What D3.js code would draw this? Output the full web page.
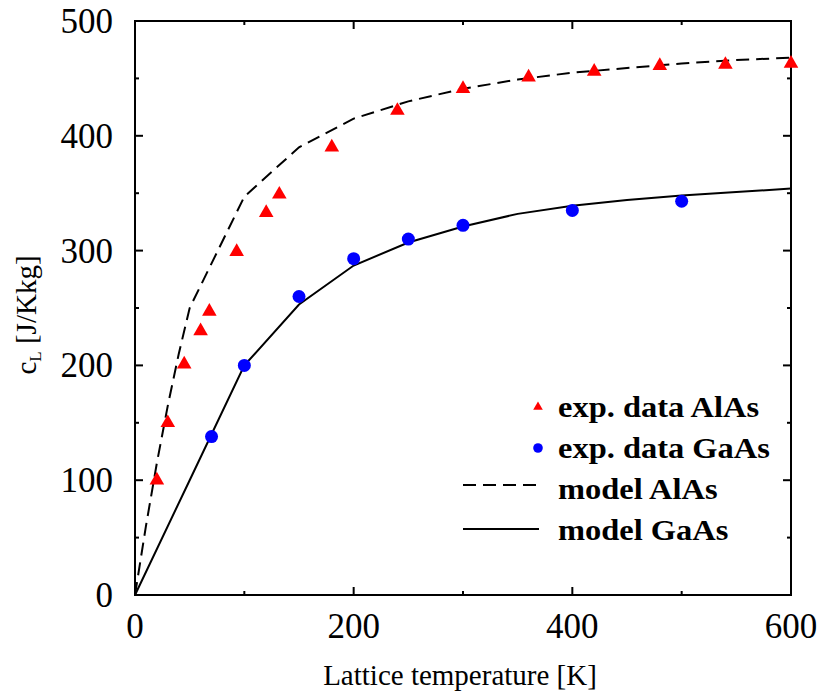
<!DOCTYPE html>
<html>
<head>
<meta charset="utf-8">
<script src="https://cdn.jsdelivr.net/npm/d3@7"></script>
<style>
  body { margin: 0; background: #fff; }
  text { font-family: "Liberation Serif", "Times New Roman", serif; }
</style>
</head>
<body>
<svg></svg>
<script>
// experimental points
const alasTemp = [20, 30, 45, 60, 68, 93, 120, 132, 180, 240, 300, 360, 420, 480, 540, 600];
const alasCp = [100, 150, 201, 230, 247, 299, 333, 349, 390, 422, 441, 451, 456, 461, 462, 463];
const gaasTemp = [70, 100, 150, 200, 250, 300, 400, 500];
const gaasCp = [138, 200, 260, 293, 310, 322, 335, 343];

// model curves
const modelAlasTemp = [0, 10, 20, 30, 40, 50, 100, 150, 200, 250, 300, 350, 400, 450, 500, 550, 600];
const modelAlasCp = [0, 60, 115, 165, 210, 250, 347, 390, 415, 430, 441, 449, 455, 459, 463, 466, 468];
const modelGaasTemp = [0, 50, 100, 150, 200, 250, 300, 350, 400, 450, 500, 550, 600];
const modelGaasCp = [0, 100, 200, 253, 287, 307, 321, 332, 339, 344, 348, 351, 354];

const xTickLabels = [0, 200, 400, 600];
const yTickLabels = [0, 100, 200, 300, 400, 500];
const legendLabels = ["exp. data AlAs", "exp. data GaAs", "model AlAs", "model GaAs"];

let width = 822,
    height = 696;

const svg = d3.select("svg")
    .attr("width", width)
    .attr("height", height);

const x = d3.scaleLinear().domain([0, 600]).range([135, 791]);
const y = d3.scaleLinear().domain([0, 500]).range([595, 21]);

const zip = (xs, ys) => xs.map((v, i) => ({ x: v, y: ys[i] }));

// ticks (inward, all four sides)
const ticks = svg.append("g").attr("class", "ticks").attr("stroke", "black").attr("stroke-width", 2);
const xt = d3.range(0, 601, 100);
const yt = d3.range(0, 501, 50);
ticks.selectAll(".xb").data(xt).enter().append("line")
    .attr("x1", d => x(d)).attr("x2", d => x(d))
    .attr("y1", y(0)).attr("y2", d => y(0) - (d % 200 == 0 ? 8 : 4));
ticks.selectAll(".xtp").data(xt).enter().append("line")
    .attr("x1", d => x(d)).attr("x2", d => x(d))
    .attr("y1", y(500)).attr("y2", d => y(500) + (d % 200 == 0 ? 8 : 4));
ticks.selectAll(".yl").data(yt).enter().append("line")
    .attr("y1", d => y(d)).attr("y2", d => y(d))
    .attr("x1", x(0)).attr("x2", d => x(0) + (d % 100 == 0 ? 8 : 4));
ticks.selectAll(".yr").data(yt).enter().append("line")
    .attr("y1", d => y(d)).attr("y2", d => y(d))
    .attr("x1", x(600)).attr("x2", d => x(600) - (d % 100 == 0 ? 8 : 4));

// frame
svg.append("rect")
    .attr("x", x(0)).attr("y", y(500))
    .attr("width", x(600) - x(0)).attr("height", y(0) - y(500))
    .attr("fill", "none").attr("stroke", "black").attr("stroke-width", 2);

// tick labels
svg.append("g").selectAll("text")
    .data(xTickLabels)
    .enter()
    .append("text")
    .attr("x", d => x(d))
    .attr("y", 638)
    .attr("text-anchor", "middle")
    .attr("font-size", 35)
    .text(d => d);

svg.append("g").selectAll("text")
    .data(yTickLabels)
    .enter()
    .append("text")
    .attr("x", 113)
    .attr("y", d => y(d) + 12)
    .attr("text-anchor", "end")
    .attr("font-size", 35)
    .text(d => d);

// axis titles
svg.append("text")
    .attr("x", 460)
    .attr("y", 685)
    .attr("text-anchor", "middle")
    .attr("font-size", 29)
    .text("Lattice temperature [K]");

const yTitle = svg.append("text")
    .attr("transform", "translate(36,315) rotate(-90)")
    .attr("text-anchor", "middle")
    .attr("font-size", 29);
yTitle.append("tspan").text("c");
yTitle.append("tspan").attr("font-size", 17).attr("dy", 5).text("L");
yTitle.append("tspan").attr("dy", -5).text(" [J/Kkg]");

// model curves
const line = d3.line().x(d => x(d.x)).y(d => y(d.y));

svg.append("path")
    .datum(zip(modelAlasTemp, modelAlasCp))
    .attr("d", line)
    .attr("fill", "none")
    .attr("stroke", "black")
    .attr("stroke-width", 2)
    .attr("stroke-dasharray", "13,7");

svg.append("path")
    .datum(zip(modelGaasTemp, modelGaasCp))
    .attr("d", line)
    .attr("fill", "none")
    .attr("stroke", "black")
    .attr("stroke-width", 2);

// experimental points
svg.append("g").attr("class", "alas")
    .selectAll("path")
    .data(zip(alasTemp, alasCp))
    .enter()
    .append("path")
    .attr("d", d3.symbol(d3.symbolTriangle, 92))
    .attr("transform", d => "translate(" + x(d.x) + "," + y(d.y) + ")")
    .attr("fill", "red");

svg.append("g").attr("class", "gaas")
    .selectAll("circle")
    .data(zip(gaasTemp, gaasCp))
    .enter()
    .append("circle")
    .attr("cx", d => x(d.x))
    .attr("cy", d => y(d.y))
    .attr("r", 6.5)
    .attr("fill", "blue");

// legend
const leg = svg.append("g").attr("class", "legend");
const rowY = i => 407 + i * 41;

leg.append("g")
    .attr("transform", "translate(558,0) scale(1.12,1)")
    .selectAll("text")
    .data(legendLabels)
    .enter()
    .append("text")
    .attr("x", 0)
    .attr("y", (d, i) => rowY(i) + 10)
    .attr("font-size", 29)
    .attr("font-weight", "bold")
    .text(d => d);

leg.append("path")
    .attr("d", d3.symbol(d3.symbolTriangle, 40))
    .attr("transform", "translate(538," + rowY(0) + ")")
    .attr("fill", "red");
leg.append("circle")
    .attr("cx", 538).attr("cy", rowY(1)).attr("r", 4.8)
    .attr("fill", "blue");
leg.append("line")
    .attr("x1", 463).attr("x2", 539)
    .attr("y1", rowY(2) - 4).attr("y2", rowY(2) - 4)
    .attr("stroke", "black").attr("stroke-width", 2)
    .attr("stroke-dasharray", "13,7");
leg.append("line")
    .attr("x1", 463).attr("x2", 539)
    .attr("y1", rowY(3) - 1).attr("y2", rowY(3) - 1)
    .attr("stroke", "black").attr("stroke-width", 2);
</script>
</body>
</html>
